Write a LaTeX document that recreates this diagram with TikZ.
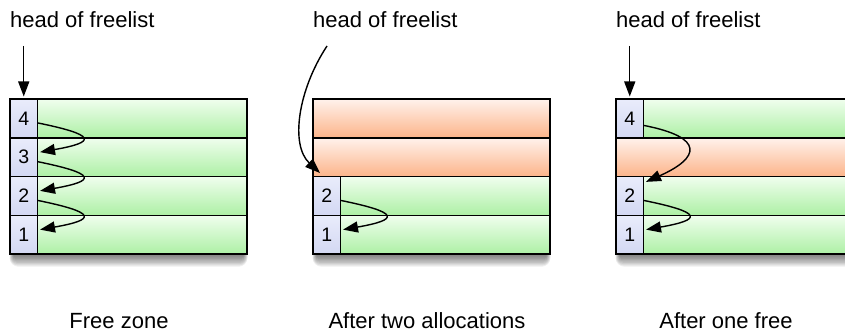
\documentclass[tikz,border=0pt]{standalone}
\usepackage{fontspec}
\setmainfont{Liberation Sans}
\usetikzlibrary{arrows.meta}
\definecolor{gtop}{HTML}{F0FEEE}
\definecolor{gbot}{HTML}{ADF0A5}
\definecolor{otop}{HTML}{FFF2EC}
\definecolor{obot}{HTML}{FCB48A}
\definecolor{btop}{HTML}{E9ECFB}
\definecolor{bbot}{HTML}{D3D8F3}
\tikzset{
  row/.style={draw, line width=1.5pt, minimum width=237pt, minimum height=38.75pt,
    anchor=north west, inner sep=0pt, outer sep=0pt},
  freerow/.style={row, top color=gtop, bottom color=gbot},
  usedrow/.style={row, top color=otop, bottom color=obot},
  cell/.style={draw, line width=1.5pt, minimum width=27.5pt, minimum height=38.75pt,
    anchor=north west, inner sep=0pt, outer sep=0pt, top color=btop, bottom color=bbot,
    font=\fontsize{19.5}{22}\selectfont},
  link/.style={line width=1.4pt, -{Triangle[length=15pt,width=11pt]}},
  lbl/.style={inner sep=0pt, font=\fontsize{22}{26}\selectfont},
  shade box/.style={black, opacity=0.065}
}
\begin{document}
\begin{tikzpicture}[x=1pt, y=-1pt]
\useasboundingbox (0,0) rectangle (845,334);
\clip (0,0) rectangle (845,334);
% shadows
\foreach \X in {10,313,616}{
  \foreach \i in {1,...,9}{
    \fill[shade box, rounded corners=\i pt] (\X+4-\i*0.5, 110) rectangle (\X+233+\i*0.5, 255+\i*1.3);
  }
}
% left panel: free zone
\node[freerow] (LR4) at (10,99) {};
\node[freerow] (LR3) at (10,137.75) {};
\node[freerow] (LR2) at (10,176.5) {};
\node[freerow] (LR1) at (10,215.25) {};
\node[cell] (L4) at (10,99) {4};
\node[cell] (L3) at (10,137.75) {3};
\node[cell] (L2) at (10,176.5) {2};
\node[cell] (L1) at (10,215.25) {1};
% middle panel
\node[usedrow] (MR4) at (313,99) {};
\node[usedrow] (MR3) at (313,137.75) {};
\node[freerow] (MR2) at (313,176.5) {};
\node[freerow] (MR1) at (313,215.25) {};
\node[cell] (M2) at (313,176.5) {2};
\node[cell] (M1) at (313,215.25) {1};
% right panel
\node[freerow] (RR4) at (616,99) {};
\node[usedrow] (RR3) at (616,137.75) {};
\node[freerow] (RR2) at (616,176.5) {};
\node[freerow] (RR1) at (616,215.25) {};
\node[cell] (R4) at (616,99) {4};
\node[cell] (R2) at (616,176.5) {2};
\node[cell] (R1) at (616,215.25) {1};
% labels
\node[lbl, anchor=base west] (h1) at (10,28) {head of freelist};
\node[lbl, anchor=base west] (h2) at (313,28) {head of freelist};
\node[lbl, anchor=base west] (h3) at (616,28) {head of freelist};
\node[lbl, anchor=base] (cap1) at (119,328) {Free zone};
\node[lbl, anchor=base] (cap2) at (427,328) {After two allocations};
\node[lbl, anchor=base] (cap3) at (726,328) {After one free};
% head pointers
\coordinate (hp1) at ([yshift=53pt]L4.north);
\coordinate (hp3) at ([yshift=53pt]R4.north);
\coordinate (hp2) at (327,46);
\draw[link] (hp1) -- ([yshift=2.5pt]L4.north);
\draw[link] (hp3) -- ([yshift=2.5pt]R4.north);
\draw[link] (hp2) .. controls (298,90) and (290,145) .. ([xshift=7pt,yshift=3.5pt]MR2.north west);
% freelist links
\draw[link] ([yshift=-4.5pt]L4.east) .. controls +(59,12) and +(57,-10) .. ([xshift=2.5pt,yshift=5pt]L3.east);
\draw[link] ([yshift=-4.5pt]L3.east) .. controls +(59,12) and +(57,-10) .. ([xshift=2.5pt,yshift=5pt]L2.east);
\draw[link] ([yshift=-4.5pt]L2.east) .. controls +(59,12) and +(57,-10) .. ([xshift=2.5pt,yshift=5pt]L1.east);
\draw[link] ([yshift=-4.5pt]M2.east) .. controls +(59,12) and +(57,-10) .. ([xshift=2.5pt,yshift=5pt]M1.east);
\draw[link] ([yshift=-7pt]R4.east) .. controls +(62,12) and +(54,-24) .. ([xshift=2.5pt,yshift=14pt]R2.east);
\draw[link] ([yshift=-4.5pt]R2.east) .. controls +(59,12) and +(57,-10) .. ([xshift=2.5pt,yshift=5pt]R1.east);
\end{tikzpicture}
\end{document}
